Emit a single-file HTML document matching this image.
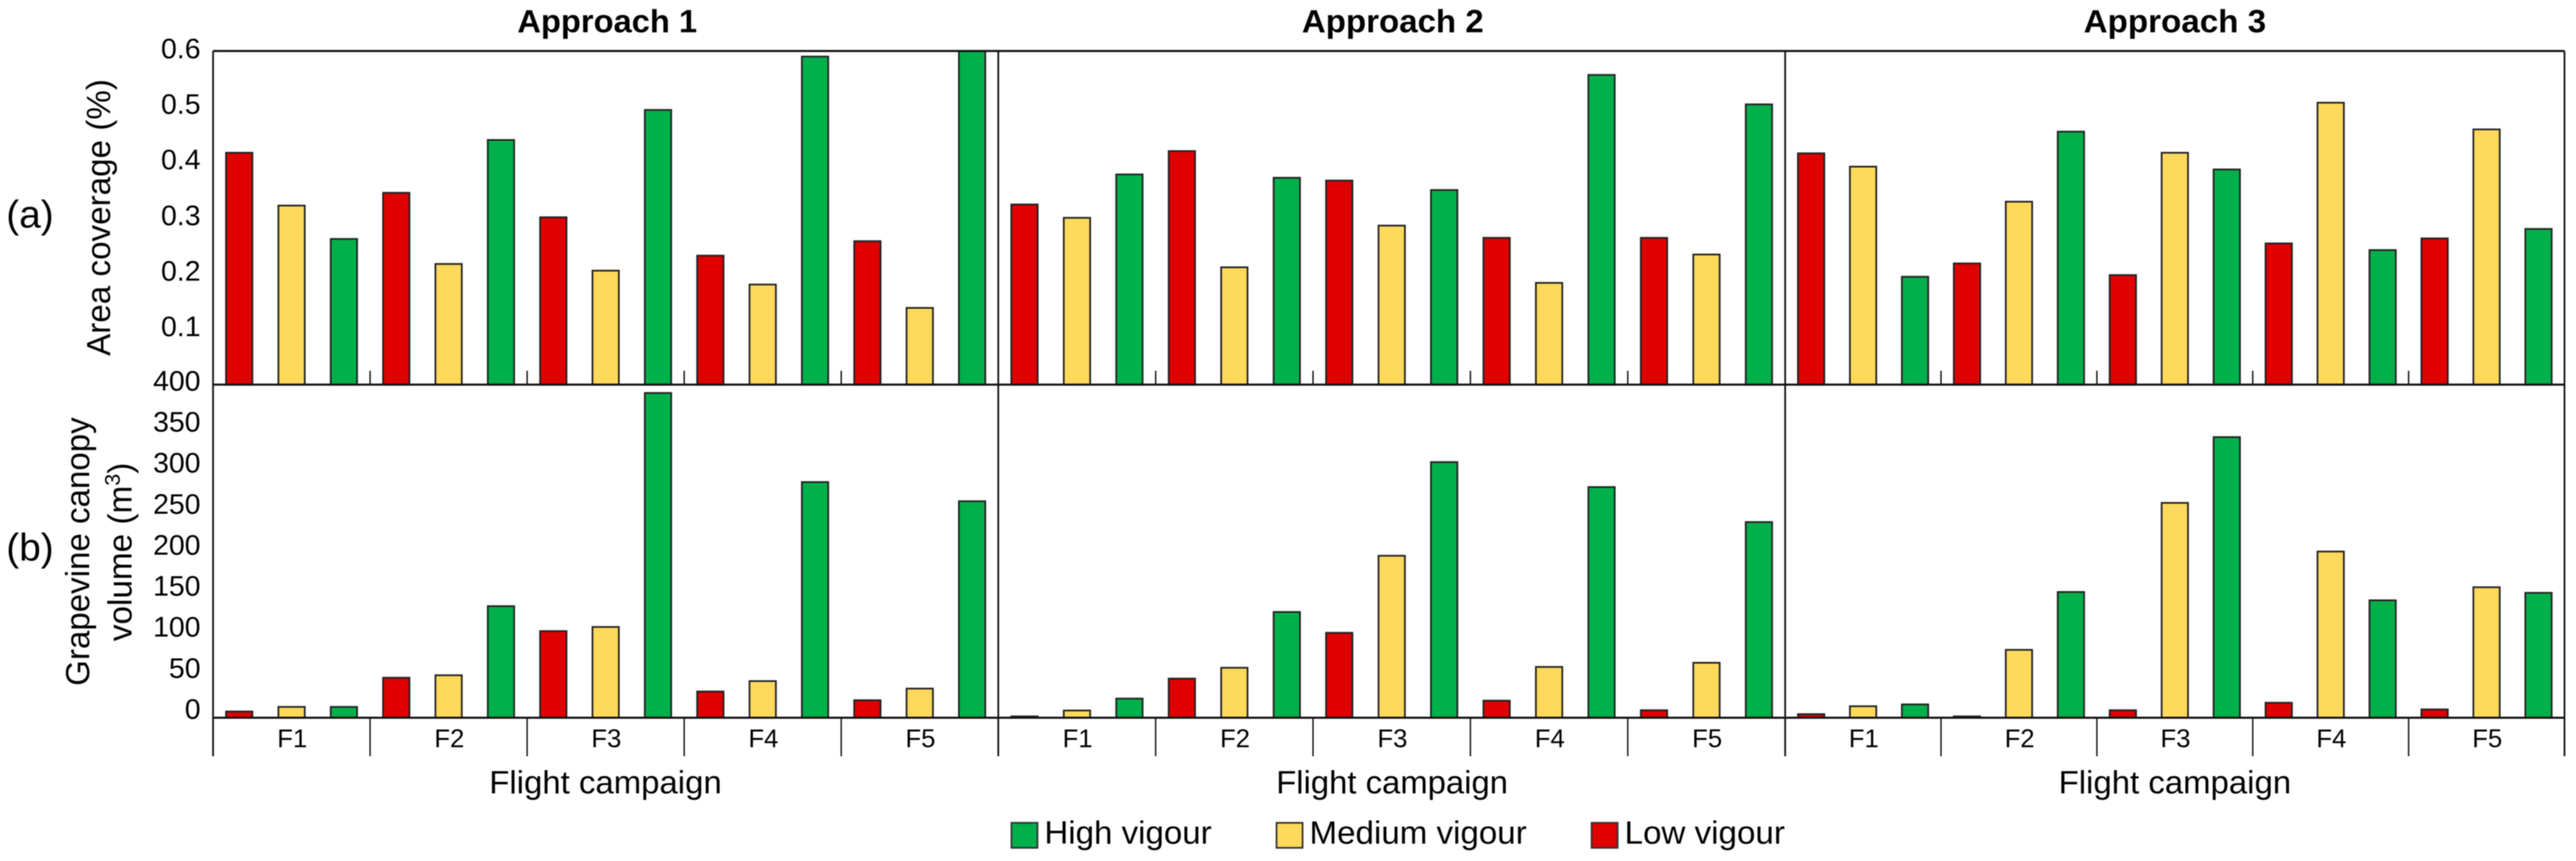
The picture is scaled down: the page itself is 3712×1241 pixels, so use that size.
<!DOCTYPE html>
<html lang="en">
<head>
<meta charset="utf-8">
<title>Area coverage and grapevine canopy volume by flight campaign</title>
<style>
html,body{margin:0;padding:0;background:#fff;}
svg{display:block;font-family:"Liberation Sans",Arial,sans-serif;filter:blur(0.7px);}
text{fill:#000;}
</style>
</head>
<body>
<svg id="chart" xmlns="http://www.w3.org/2000/svg" width="3712" height="1241" viewBox="0 0 3712 1241">
  <rect x="0" y="0" width="3712" height="1241" fill="#fff"/>
  <g id="bars"></g>
  <g id="axes"></g>
  <g id="ticklabels"></g>

  <text x="875" y="46.5" font-size="46" font-weight="bold" text-anchor="middle" textLength="259" lengthAdjust="spacingAndGlyphs">Approach 1</text>
  <text x="2007" y="46.5" font-size="46" font-weight="bold" text-anchor="middle" textLength="262" lengthAdjust="spacingAndGlyphs">Approach 2</text>
  <text x="3134" y="46.5" font-size="46" font-weight="bold" text-anchor="middle" textLength="263" lengthAdjust="spacingAndGlyphs">Approach 3</text>

  <text x="9" y="328" font-size="56">(a)</text>
  <text x="9" y="808" font-size="56">(b)</text>

  <text transform="translate(158.5,313.5) rotate(-90)" font-size="48" text-anchor="middle" textLength="399" lengthAdjust="spacingAndGlyphs">Area coverage (%)</text>
  <text transform="translate(128.5,795) rotate(-90)" font-size="48" text-anchor="middle" textLength="387" lengthAdjust="spacingAndGlyphs">Grapevine canopy</text>
  <text transform="translate(189.5,795.5) rotate(-90)" font-size="48" text-anchor="middle">volume (m<tspan font-size="31" dy="-17">3</tspan><tspan dy="17">)</tspan></text>

  <text x="872.5" y="1143.5" font-size="46" text-anchor="middle" textLength="335" lengthAdjust="spacingAndGlyphs">Flight campaign</text>
  <text x="2006" y="1143.5" font-size="46" text-anchor="middle" textLength="334" lengthAdjust="spacingAndGlyphs">Flight campaign</text>
  <text x="3134" y="1143.5" font-size="46" text-anchor="middle" textLength="335" lengthAdjust="spacingAndGlyphs">Flight campaign</text>

  <g>
    <g>
      <rect x="1457.5" y="1186" width="37.5" height="36" fill="#00B04A" stroke="#333" stroke-width="2.5"/>
      <text x="1505" y="1216" font-size="46" textLength="241" lengthAdjust="spacingAndGlyphs">High vigour</text>
    </g>
    <g>
      <rect x="1839.5" y="1186" width="37.5" height="36" fill="#FFD95B" stroke="#333" stroke-width="2.5"/>
      <text x="1887" y="1216" font-size="46" textLength="313" lengthAdjust="spacingAndGlyphs">Medium vigour</text>
    </g>
    <g>
      <rect x="2293.5" y="1186" width="37.5" height="36" fill="#E00000" stroke="#333" stroke-width="2.5"/>
      <text x="2341" y="1216" font-size="46" textLength="231" lengthAdjust="spacingAndGlyphs">Low vigour</text>
    </g>
  </g>
</svg>
<script>
// ---- chart data ----
const campaigns = ['F1', 'F2', 'F3', 'F4', 'F5'];
const coverageTicks = [0.1, 0.2, 0.3, 0.4, 0.5, 0.6];
const volumeTicks = [0, 50, 100, 150, 200, 250, 300, 350, 400];

const coverageLowA1 = [0.417, 0.345, 0.301, 0.232, 0.258];
const coverageMedA1 = [0.322, 0.217, 0.205, 0.180, 0.138];
const coverageHighA1 = [0.262, 0.440, 0.494, 0.590, 0.600];

const coverageLowA2 = [0.324, 0.420, 0.367, 0.264, 0.264];
const coverageMedA2 = [0.300, 0.211, 0.286, 0.183, 0.234];
const coverageHighA2 = [0.378, 0.372, 0.350, 0.557, 0.504];

const coverageLowA3 = [0.416, 0.218, 0.197, 0.254, 0.263];
const coverageMedA3 = [0.392, 0.329, 0.417, 0.507, 0.459];
const coverageHighA3 = [0.194, 0.455, 0.387, 0.242, 0.280];

const volumeLowA1 = [7.5, 48, 104, 31.5, 21];
const volumeMedA1 = [13, 51, 109, 44, 35];
const volumeHighA1 = [13, 134, 390, 283, 260];

const volumeLowA2 = [1.6, 47, 102, 20.5, 9];
const volumeMedA2 = [8.7, 60, 194.5, 61, 66];
const volumeHighA2 = [23, 127, 307, 277, 235];

const volumeLowA3 = [4.3, 1.6, 9, 18, 10];
const volumeMedA3 = [13.8, 81.5, 258, 199.6, 156.7];
const volumeHighA3 = [16, 151, 337, 141, 150];

// ---- layout and axis functions ----
const SVGNS = 'http://www.w3.org/2000/svg';
const PANEL_EDGES = [307, 1438.5, 2572.4, 3695.4];
const TOP_Y = 73.5, MID_Y = 554.4, BOTTOM_Y = 1034.5, TICK_END_Y = 1090;
const BAR_WIDTH = 38;
const COVERAGE_MAX = 0.6, VOLUME_MAX = 400;
const COLORS = {low: '#E00000', medium: '#FFD95B', high: '#00B04A'};

function yCoverage(v) { return MID_Y - (v / COVERAGE_MAX) * (MID_Y - TOP_Y); }
function yVolume(v) { return BOTTOM_Y - (v / VOLUME_MAX) * (BOTTOM_Y - MID_Y); }
function yVolumeLabel(v) { return 1036 - v * 1.183; }
function xGroup(panel, group) {
  const left = PANEL_EDGES[panel], right = PANEL_EDGES[panel + 1];
  return left + (right - left) * group / campaigns.length;
}
function xBarCenter(panel, group, slot) {
  const w = xGroup(panel, 1) - xGroup(panel, 0);
  return xGroup(panel, group) + w * (slot + 0.5) / 3;
}

const barsLayer = document.getElementById('bars');
const axesLayer = document.getElementById('axes');
const labelLayer = document.getElementById('ticklabels');

function svgEl(tag) { return document.createElementNS(SVGNS, tag); }

function drawBars(values, panel, slot, color, yScale, metric, level) {
  values.forEach(function (v, g) {
    const y = yScale(v);
    const base = yScale(0);
    const r = svgEl('rect');
    r.setAttribute('x', xBarCenter(panel, g, slot) - BAR_WIDTH / 2);
    r.setAttribute('y', y);
    r.setAttribute('width', BAR_WIDTH);
    r.setAttribute('height', base - y);
    r.setAttribute('fill', color);
    r.setAttribute('stroke', '#222');
    r.setAttribute('stroke-width', '2.5');
    
    
    barsLayer.appendChild(r);
  });
}

function drawLine(x1, y1, x2, y2, width, name) {
  const l = svgEl('line');
  l.setAttribute('x1', x1);
  l.setAttribute('y1', y1);
  l.setAttribute('x2', x2);
  l.setAttribute('y2', y2);
  l.setAttribute('stroke', '#111');
  l.setAttribute('stroke-width', width);
  
  
  axesLayer.appendChild(l);
}

function drawTickLabel(text, y, name) {
  const t = svgEl('text');
  t.setAttribute('x', 289);
  t.setAttribute('y', y);
  t.setAttribute('font-size', '41');
  t.setAttribute('text-anchor', 'end');
  
  
  t.textContent = text;
  labelLayer.appendChild(t);
}

// bars
drawBars(coverageLowA1, 0, 0, COLORS.low, yCoverage, 'coverage', 'low');
drawBars(coverageMedA1, 0, 1, COLORS.medium, yCoverage, 'coverage', 'medium');
drawBars(coverageHighA1, 0, 2, COLORS.high, yCoverage, 'coverage', 'high');
drawBars(coverageLowA2, 1, 0, COLORS.low, yCoverage, 'coverage', 'low');
drawBars(coverageMedA2, 1, 1, COLORS.medium, yCoverage, 'coverage', 'medium');
drawBars(coverageHighA2, 1, 2, COLORS.high, yCoverage, 'coverage', 'high');
drawBars(coverageLowA3, 2, 0, COLORS.low, yCoverage, 'coverage', 'low');
drawBars(coverageMedA3, 2, 1, COLORS.medium, yCoverage, 'coverage', 'medium');
drawBars(coverageHighA3, 2, 2, COLORS.high, yCoverage, 'coverage', 'high');

drawBars(volumeLowA1, 0, 0, COLORS.low, yVolume, 'volume', 'low');
drawBars(volumeMedA1, 0, 1, COLORS.medium, yVolume, 'volume', 'medium');
drawBars(volumeHighA1, 0, 2, COLORS.high, yVolume, 'volume', 'high');
drawBars(volumeLowA2, 1, 0, COLORS.low, yVolume, 'volume', 'low');
drawBars(volumeMedA2, 1, 1, COLORS.medium, yVolume, 'volume', 'medium');
drawBars(volumeHighA2, 1, 2, COLORS.high, yVolume, 'volume', 'high');
drawBars(volumeLowA3, 2, 0, COLORS.low, yVolume, 'volume', 'low');
drawBars(volumeMedA3, 2, 1, COLORS.medium, yVolume, 'volume', 'medium');
drawBars(volumeHighA3, 2, 2, COLORS.high, yVolume, 'volume', 'high');

// frame lines
drawLine(PANEL_EDGES[0], TOP_Y, PANEL_EDGES[3], TOP_Y, 3, 'top-axis-line');
drawLine(PANEL_EDGES[0], MID_Y, PANEL_EDGES[3], MID_Y, 3, 'middle-axis-line');
drawLine(PANEL_EDGES[0], BOTTOM_Y, PANEL_EDGES[3], BOTTOM_Y, 3, 'bottom-axis-line');
PANEL_EDGES.forEach(function (x, i) {
  drawLine(x, TOP_Y, x, TICK_END_Y, 2.5, 'panel-divider-' + i);
});

// group separators and campaign labels
[0, 1, 2].forEach(function (panel) {
  campaigns.forEach(function (c, g) {
    const x = xGroup(panel, g);
    if (g > 0) {
      drawLine(x, MID_Y - 20, x, MID_Y, 2, 'coverage-tick-approach' + (panel + 1) + '-' + g);
      drawLine(x, BOTTOM_Y, x, TICK_END_Y, 2, 'campaign-separator-approach' + (panel + 1) + '-' + g);
    }
    const t = svgEl('text');
    t.setAttribute('x', x + (xGroup(panel, 1) - xGroup(panel, 0)) / 2 + 1);
    t.setAttribute('y', 1077);
    t.setAttribute('font-size', '37');
    t.setAttribute('text-anchor', 'middle');
    
    
    t.textContent = c;
    labelLayer.appendChild(t);
  });
});

// y tick labels
coverageTicks.forEach(function (v) {
  drawTickLabel(v.toFixed(1), yCoverage(v) + 10.3, 'y-tick-label-coverage-' + v.toFixed(1));
});
volumeTicks.forEach(function (v) {
  drawTickLabel(String(v), yVolumeLabel(v), 'y-tick-label-volume-' + v);
});
</script>
</body>
</html>
